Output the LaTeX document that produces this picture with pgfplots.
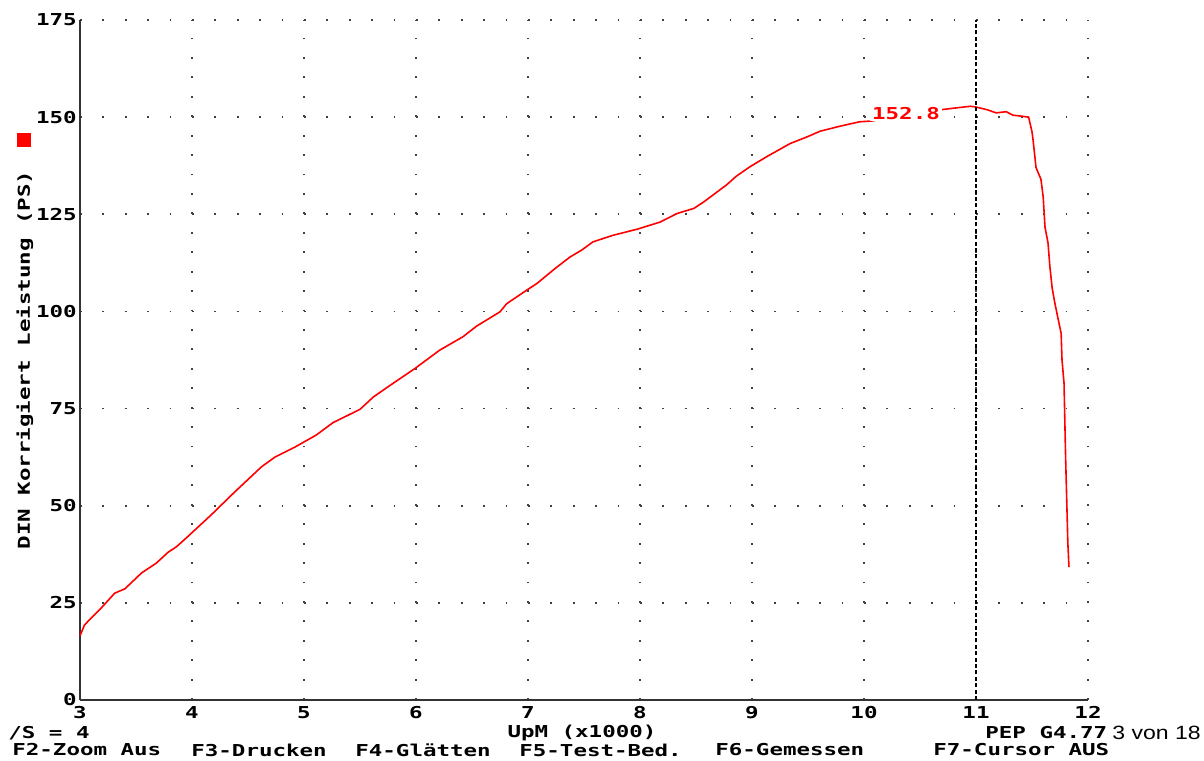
\documentclass[border=0pt]{standalone}
\usepackage{fontspec}
\usepackage{pgfplots}
\pgfplotsset{compat=1.18}
\setmainfont{DejaVu Sans Mono}
\newfontfamily\pix{DejaVu Sans Mono}[FakeStretch=1.37]
\newfontfamily\thin{Liberation Sans}[FakeStretch=1.2]
\definecolor{prufred}{RGB}{255,0,0}
\newcommand{\pixfont}{\pix\bfseries\fontsize{8.2pt}{9pt}\selectfont}

\begin{document}
\begin{tikzpicture}
  % 1 px of the reference = 0.5pt, axis corner (3,0) at px (80,700)
  \path[use as bounding box] (-40pt,-30pt) rectangle (562pt,350pt);
  \begin{axis}[
    at={(0,0)}, anchor=south west,
    scale only axis, width=504pt, height=340pt,
    xmin=3, xmax=12, ymin=0, ymax=175,
    xtick={3,...,12}, ytick={0,25,...,175},
    axis x line=bottom, axis y line=left,
    axis line style={-, line width=1pt, black!80},
    major tick length=0pt,
    /pgf/number format/assume math mode=true,
    ticklabel style={font=\pixfont, inner sep=0pt},
    yticklabel style={anchor=east, xshift=-1.5pt},
    xticklabel style={anchor=north, yshift=-3pt},
    grid=major,
    x grid style={black!75, line width=0.9pt, dash pattern=on 0.9pt off 8.814pt},
    y grid style={black!75, line width=0.9pt, dash pattern=on 0.9pt off 10.3pt},
    xlabel={UpM (x1000)},
    xlabel style={font=\pixfont, at={(axis description cs:0.498,-0.0485)}, anchor=center, inner sep=0pt},
    ylabel={DIN Korrigiert Leistung (PS)},
    ylabel style={font=\pixfont, at={(axis description cs:-0.0546,0.5)}, anchor=center, rotate=0, inner sep=0pt},
    clip=false,
  ]
    \addplot[prufred, line width=0.8pt] coordinates {
      (3.00,16.5)(3.04,19.3)(3.10,21.1)(3.19,23.7)(3.31,27.5)(3.40,28.6)
      (3.55,32.7)(3.68,35.2)(3.79,38.1)(3.86,39.4)(3.96,42.0)(4.17,47.6)
      (4.38,53.5)(4.62,60.0)(4.74,62.5)(4.92,65.1)(5.11,68.2)(5.26,71.4)
      (5.50,74.8)(5.62,78.0)(5.77,81.0)(5.99,85.3)(6.21,90.0)(6.42,93.5)
      (6.54,96.2)(6.75,99.9)(6.81,102.0)(6.99,105.5)(7.08,107.2)(7.24,111.0)
      (7.375,114.0)(7.48,115.8)(7.58,117.9)(7.76,119.6)(7.98,121.2)(8.18,123.0)
      (8.33,125.2)(8.48,126.5)(8.57,128.2)(8.77,132.5)(8.86,134.8)(8.98,137.2)
      (9.13,139.8)(9.34,143.2)(9.49,144.9)(9.61,146.4)(9.79,147.7)(9.96,148.8)
      (10.07,149.0)(10.2,149.8)(10.4,150.8)(10.6,151.6)(10.8,152.3)(10.95,152.8)
      (11.0,152.6)(11.1,151.9)(11.18,151.1)(11.27,151.4)(11.33,150.5)(11.42,150.2)
      (11.47,150.0)(11.50,146.2)(11.51,144.0)(11.536,137.0)(11.58,134.0)(11.60,129.4)
      (11.616,121.7)(11.643,117.6)(11.66,111.4)(11.68,106.0)(11.705,102.0)(11.73,98.5)
      (11.76,94.4)(11.768,87.5)(11.786,81.5)(11.80,62.5)(11.82,40.4)(11.83,34.2)
    };
    % cursor
    \draw[black, line width=0.8pt, dash pattern=on 2pt off 1.2pt] (axis cs:11,0) -- (axis cs:11,175);
    \node[font=\pixfont, text=prufred, fill=white, inner sep=1pt] at (axis cs:10.375,151) {152.8};
  \end{axis}
  \fill[prufred] (-31.5pt,276.5pt) rectangle (-24.5pt,283.5pt);
  \begin{scope}[every node/.style={font=\pixfont, anchor=west, inner sep=0pt}]
    \node at (-36pt,-16.5pt) {/S = 4};
    \node at (452.5pt,-16.5pt) {PEP G4.77};
    \node[font=\thin\fontsize{9.6pt}{11pt}\selectfont] at (516pt,-16.5pt) {3 von 18};
    \node at (-34pt,-25pt) {F2-Zoom Aus};
    \node at (55.5pt,-25pt) {F3-Drucken};
    \node at (137.5pt,-25pt) {F4-Glätten};
    \node at (219.5pt,-25pt) {F5-Test-Bed.};
    \node at (317.5pt,-25pt) {F6-Gemessen};
    \node at (426.5pt,-25pt) {F7-Cursor AUS};
  \end{scope}
\end{tikzpicture}
\end{document}
